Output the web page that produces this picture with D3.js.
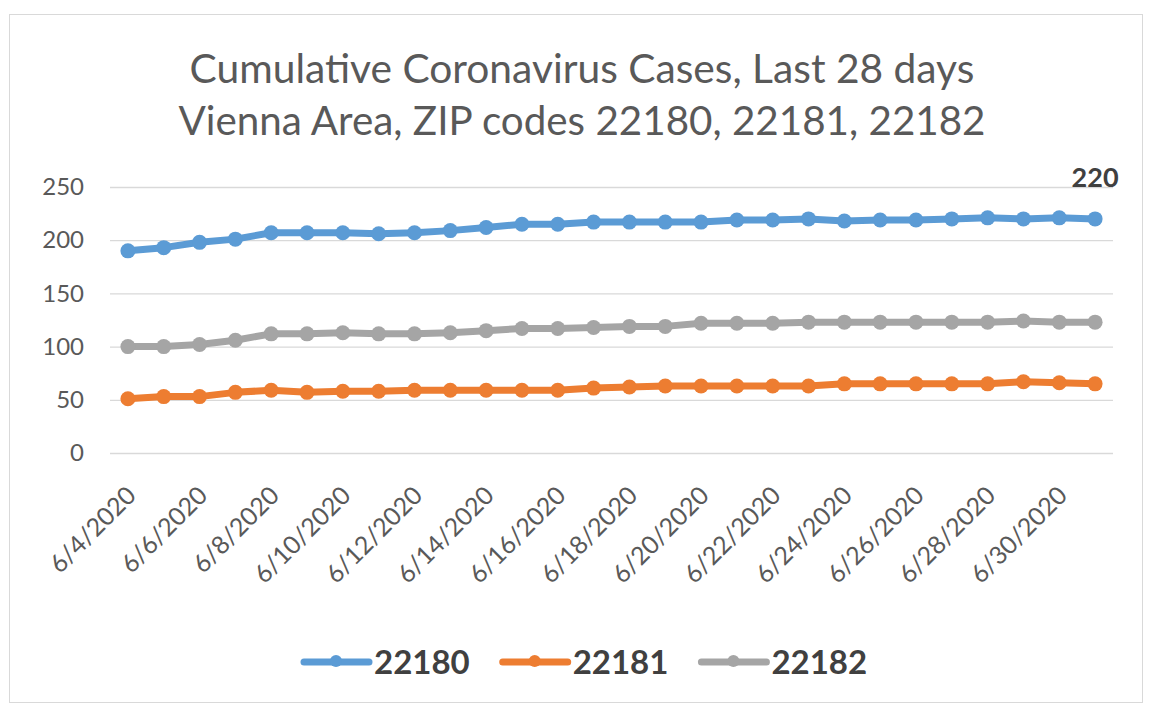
<!DOCTYPE html>
<html>
<head>
<meta charset="utf-8">
<script src="https://cdn.jsdelivr.net/npm/d3@7"></script>
<style>
  html, body { margin: 0; padding: 0; background: #ffffff; }
  svg { display: block; font-family: Lato, "Open Sans", sans-serif; }
</style>
</head>
<body>
<svg id="chart" width="1150" height="707"></svg>
<script>
// ---- data ----
const titleLines = ["Cumulative Coronavirus Cases, Last 28 days", "Vienna Area, ZIP codes 22180, 22181, 22182"];
const dates = ["6/4/2020","6/5/2020","6/6/2020","6/7/2020","6/8/2020","6/9/2020","6/10/2020",
  "6/11/2020","6/12/2020","6/13/2020","6/14/2020","6/15/2020","6/16/2020","6/17/2020",
  "6/18/2020","6/19/2020","6/20/2020","6/21/2020","6/22/2020","6/23/2020","6/24/2020",
  "6/25/2020","6/26/2020","6/27/2020","6/28/2020","6/29/2020","6/30/2020","7/1/2020"];
const seriesNames = ["22180", "22181", "22182"];
const zip22180 = [190,193,198,201,207,207,207,206,207,209,212,215,215,217,217,217,217,219,219,220,218,219,219,220,221,220,221,220];
const zip22181 = [51,53,53,57,59,57,58,58,59,59,59,59,59,61,62,63,63,63,63,63,65,65,65,65,65,67,66,65];
const zip22182 = [100,100,102,106,112,112,113,112,112,113,115,117,117,118,119,119,122,122,122,123,123,123,123,123,123,124,123,123];
const yTicks = [0, 50, 100, 150, 200, 250];
const seriesColors = ["#5B9BD5", "#ED7D31", "#A5A5A5"];

const series = [zip22180, zip22181, zip22182].map((vals, i) => ({
  name: seriesNames[i], color: seriesColors[i], values: vals
}));

// ---- layout ----
const svg = d3.select("#chart");
const plot = { left: 110, right: 1113, top: 187, bottom: 453 };

// chart-area border
svg.append("rect")
  .attr("x", 9.5).attr("y", 14.5).attr("width", 1133).attr("height", 688)
  .attr("fill", "#ffffff").attr("stroke", "#D9D9D9").attr("stroke-width", 1);

const x = d3.scalePoint().domain(dates).range([plot.left, plot.right]).padding(0.5);
const y = d3.scaleLinear().domain([0, 250]).range([plot.bottom, plot.top]);

// title
const titleTargets = [785, 807];
titleLines.forEach((t, i) => {
  const el = svg.append("text")
    .attr("x", 582).attr("y", 83 + i * 52)
    .attr("text-anchor", "middle")
    .attr("fill", "#595959")
    .style("font-size", "36px")
    .text(t);
  const w = el.node().getComputedTextLength();
  el.style("font-size", (36 * titleTargets[i] / w).toFixed(2) + "px");
});

// y axis with gridlines
const yAxis = svg.append("g")
  .attr("transform", `translate(${plot.left},0)`)
  .call(d3.axisLeft(y).tickValues(yTicks).tickSize(-(plot.right - plot.left)).tickPadding(26));
yAxis.select(".domain").remove();
yAxis.selectAll(".tick line").attr("stroke", "#D9D9D9").attr("stroke-width", 1.3);
yAxis.selectAll(".tick text")
  .attr("fill", "#595959")
  .style("font-size", "24px")
  .style("font-family", "Lato, sans-serif");

// x axis labels (every other date)
const xAxis = svg.append("g")
  .attr("transform", `translate(0,${plot.bottom})`)
  .call(d3.axisBottom(x).tickValues(dates.filter((d, i) => i % 2 === 0)).tickSize(0));
xAxis.select(".domain").remove();
xAxis.selectAll(".tick text")
  .attr("x", 0).attr("y", 0).attr("dy", 0)
  .attr("text-anchor", "end")
  .attr("transform", "translate(9,44) rotate(-45)")
  .attr("fill", "#595959")
  .style("font-size", "25px")
  .style("font-family", "Lato, sans-serif");

// lines and markers
const line = d3.line().x((d, i) => x(dates[i])).y(d => y(d));
series.forEach(s => {
  const g = svg.append("g");
  g.append("path")
    .attr("d", line(s.values))
    .attr("fill", "none")
    .attr("stroke", s.color)
    .attr("stroke-width", 7)
    .attr("stroke-linejoin", "round")
    .attr("stroke-linecap", "round");
  g.selectAll("circle").data(s.values).join("circle")
    .attr("cx", (d, i) => x(dates[i]))
    .attr("cy", d => y(d))
    .attr("r", 7.5)
    .attr("fill", s.color);
});

// data label on last point of 22180
const lastIdx = dates.length - 1;
svg.append("text")
  .attr("x", x(dates[lastIdx]))
  .attr("y", 187)
  .attr("text-anchor", "middle")
  .attr("fill", "#404040")
  .style("font-size", "27px")
  .style("font-weight", "bold")
  .text(zip22180[lastIdx]);

// legend
const legendY = 662;
let lx = 304;
series.forEach(s => {
  const g = svg.append("g");
  g.append("line")
    .attr("x1", lx).attr("x2", lx + 65)
    .attr("y1", legendY).attr("y2", legendY)
    .attr("stroke", s.color).attr("stroke-width", 7).attr("stroke-linecap", "round");
  g.append("circle")
    .attr("cx", lx + 32).attr("cy", legendY - 1).attr("r", 6)
    .attr("fill", s.color);
  const t = g.append("text")
    .attr("x", lx + 70).attr("y", legendY + 12)
    .attr("fill", "#404040")
    .style("font-size", "33px")
    .style("font-weight", "bold")
    .text(s.name);
  lx += 70 + t.node().getComputedTextLength() + 33;
});
</script>
</body>
</html>
